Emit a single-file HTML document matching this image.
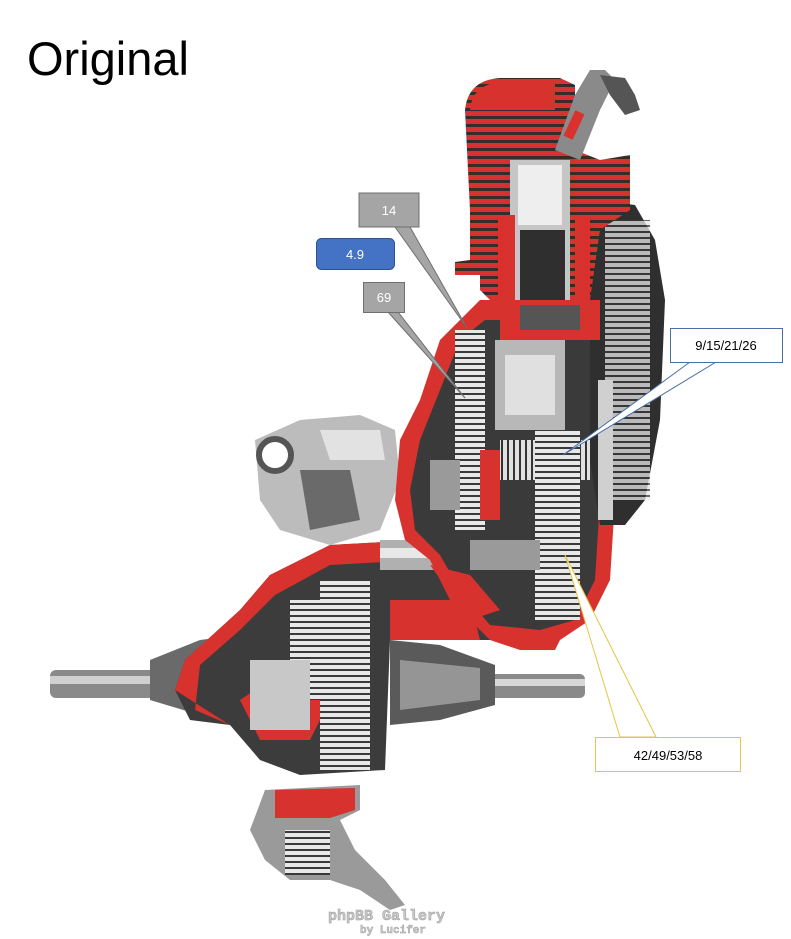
<!DOCTYPE html>
<html><head><meta charset="utf-8"><style>
html,body{margin:0;padding:0;background:#fff;}
body{width:791px;height:939px;overflow:hidden;position:relative;font-family:"Liberation Sans",sans-serif;}
</style></head><body>
<svg width="791" height="939" viewBox="0 0 791 939" xmlns="http://www.w3.org/2000/svg" style="position:absolute;left:0;top:0">
<defs>
<pattern id="fins" width="8" height="8" patternUnits="userSpaceOnUse"><rect width="8" height="8" fill="#d8322e"/><rect y="4" width="8" height="3" fill="#3a2a2a"/></pattern>
<pattern id="gear" width="6" height="6" patternUnits="userSpaceOnUse"><rect width="6" height="6" fill="#e8e8e8"/><rect y="3" width="6" height="2" fill="#3a3a3a"/></pattern>
<pattern id="gearv" width="6" height="6" patternUnits="userSpaceOnUse"><rect width="6" height="6" fill="#e0e0e0"/><rect x="3" width="2" height="6" fill="#333"/></pattern>
</defs>
<text x="27" y="75" font-size="47" fill="#000" font-family="Liberation Sans,sans-serif">Original</text>

<rect x="50" y="670" width="150" height="28" rx="6" fill="#8a8a8a"/>
<rect x="50" y="676" width="150" height="8" fill="#d0d0d0"/>
<rect x="490" y="674" width="95" height="24" rx="5" fill="#8a8a8a"/>
<rect x="490" y="679" width="95" height="7" fill="#d8d8d8"/>
<path d="M150 660 L200 640 L240 635 L245 720 L200 715 L150 700 Z" fill="#6a6a6a"/>
<path d="M390 640 L440 645 L495 665 L495 705 L440 720 L390 725 Z" fill="#5a5a5a"/>
<path d="M400 660 L480 668 L480 700 L400 710Z" fill="#bdbdbd" opacity=".6"/>

<path d="M175 690 L185 660 L240 610 L270 575 L330 545 L420 540 L480 545 L540 560 L560 610 L540 640 L480 640 L420 625 L390 640 L385 770 L300 775 L260 760 L230 725 L190 720 Z" fill="#3c3c3c"/>
<path d="M175 690 L185 660 L240 610 L270 575 L330 545 L420 540 L420 560 L330 565 L275 595 L240 630 L200 665 L195 710 L230 725 Z" fill="#d8322e"/>
<path d="M240 700 L300 660 L330 700 L310 740 L260 740Z" fill="#d8322e"/>
<rect x="320" y="580" width="50" height="190" fill="url(#gear)"/>
<rect x="290" y="600" width="30" height="100" fill="url(#gear)"/>
<rect x="250" y="660" width="60" height="70" fill="#c8c8c8"/>
<rect x="380" y="540" width="170" height="30" fill="#b0b0b0"/>
<rect x="380" y="548" width="170" height="10" fill="#e8e8e8"/>
<path d="M390 600 L470 600 L480 640 L390 640Z" fill="#d8322e"/>

<path d="M255 440 L300 420 L360 415 L395 430 L400 480 L380 530 L330 545 L280 530 L260 500 Z" fill="#bcbcbc"/>
<circle cx="275" cy="455" r="16" fill="#fff" stroke="#555" stroke-width="6"/>
<path d="M300 470 L350 470 L360 520 L310 530Z" fill="#6a6a6a"/>
<path d="M320 430 L380 430 L385 460 L330 460Z" fill="#e2e2e2"/>

<path d="M400 440 L420 400 L440 340 L460 320 L480 300 L600 300 L630 380 L615 500 L610 580 L590 620 L560 640 L555 650 L520 650 L490 640 L470 620 L450 600 L430 560 L405 540 L395 500 Z" fill="#d8322e"/>
<path d="M420 440 L440 390 L460 340 L485 320 L590 320 L610 390 L600 500 L595 580 L575 620 L540 630 L490 625 L460 590 L440 555 L415 530 L410 490 Z" fill="#3a3a3a"/>
<rect x="455" y="330" width="30" height="200" fill="url(#gear)"/>
<rect x="495" y="340" width="70" height="90" fill="#b8b8b8"/>
<rect x="505" y="355" width="50" height="60" fill="#e0e0e0"/>
<rect x="500" y="440" width="90" height="40" fill="url(#gearv)"/>
<rect x="535" y="430" width="45" height="190" fill="url(#gear)"/>
<path d="M480 450 L500 450 L500 520 L480 520Z" fill="#d8322e"/>
<path d="M430 460 L460 460 L460 510 L430 510Z" fill="#9a9a9a"/>
<rect x="470" y="540" width="70" height="30" fill="#9a9a9a"/>
<path d="M430 565 L470 575 L500 610 L470 620 Z" fill="#d8322e"/>

<path d="M595 200 L635 205 L655 240 L665 300 L660 420 L645 500 L625 525 L600 525 L590 460 L590 260 Z" fill="#2f2f2f"/>
<rect x="605" y="220" width="45" height="280" fill="url(#gear)" opacity=".75"/>
<rect x="598" y="380" width="15" height="140" fill="#d0d0d0"/>

<path d="M465 110 Q468 80 500 78 L560 78 L575 85 L575 150 L600 160 L630 155 L630 210 L600 230 L590 300 L490 300 L480 290 L480 275 L455 275 L455 262 L470 260 L470 210 Z" fill="url(#fins)"/>
<path d="M470 110 Q472 85 500 82 L555 82 L555 110 Z" fill="#d8322e"/>
<rect x="510" y="160" width="60" height="150" fill="#c6c6c6"/>
<rect x="518" y="165" width="44" height="60" fill="#eeeeee"/>
<path d="M498 215 L515 215 L515 300 L498 300Z" fill="#d8322e"/>
<path d="M575 215 L590 215 L590 300 L575 300Z" fill="#d8322e"/>
<rect x="520" y="230" width="45" height="80" fill="#2f2f2f"/>
<rect x="500" y="300" width="100" height="40" fill="#d8322e"/>
<rect x="520" y="305" width="60" height="25" fill="#555"/>
<path d="M555 150 L575 95 L590 70 L605 70 L615 80 L600 110 L580 160 Z" fill="#8a8a8a"/>
<path d="M600 75 L625 78 L635 95 L640 110 L625 115 L610 95Z" fill="#555"/>
<rect x="560" y="120" width="28" height="10" fill="#d8322e" transform="rotate(-65 574 125)"/>

<path d="M265 790 L360 785 L360 810 L340 820 L355 850 L385 880 L405 905 L390 910 L360 890 L330 880 L290 880 L265 860 L250 830 Z" fill="#9a9a9a"/>
<path d="M275 790 L355 788 L355 810 L330 818 L275 818Z" fill="#d8322e"/>
<rect x="285" y="830" width="45" height="45" fill="url(#gear)"/>

<text x="328" y="920" font-size="15" font-family="Liberation Mono,monospace" font-weight="bold" fill="#c8c8c8" stroke="#999" stroke-width=".5">phpBB Gallery</text>
<text x="360" y="933" font-size="11" font-family="Liberation Mono,monospace" font-weight="bold" fill="#c8c8c8" stroke="#999" stroke-width=".4">by Lucifer</text>

<path d="M395 227 L467 328 L410 227 Z" fill="#a5a5a5" stroke="#6f6f6f" stroke-width="1"/>
<rect x="359" y="193" width="60" height="34" fill="#a5a5a5" stroke="#6f6f6f" stroke-width="1"/>
<text x="389" y="215" font-size="13" fill="#fff" text-anchor="middle">14</text>

<rect x="316.5" y="238.5" width="78" height="31" rx="5" fill="#4472c4" stroke="#2f528f" stroke-width="1"/>
<text x="355" y="259" font-size="13" fill="#fff" text-anchor="middle">4.9</text>

<path d="M388 312 L465 398 L398 312 Z" fill="#a5a5a5" stroke="#6f6f6f" stroke-width="1"/>
<rect x="363.5" y="282.5" width="41" height="30" fill="#a5a5a5" stroke="#6f6f6f" stroke-width="1"/>
<text x="384" y="302" font-size="13" fill="#fff" text-anchor="middle">69</text>

<path d="M690 362 L563 455 L716 362 Z" fill="#fff" stroke="#4a6fa5" stroke-width="1"/>
<rect x="670.5" y="328.5" width="112" height="34" fill="#fff" stroke="#4a6fa5" stroke-width="1"/>
<text x="726" y="350" font-size="13" fill="#000" text-anchor="middle">9/15/21/26</text>

<path d="M620 737 L565 555 L656 737 Z" fill="#fff" stroke="#e6c34a" stroke-width="1"/>
<rect x="595.5" y="737.5" width="145" height="34" fill="#fff" stroke="#e6c34a" stroke-width="1"/>
<text x="668" y="760" font-size="13" fill="#000" text-anchor="middle">42/49/53/58</text>
</svg>
</body></html>
